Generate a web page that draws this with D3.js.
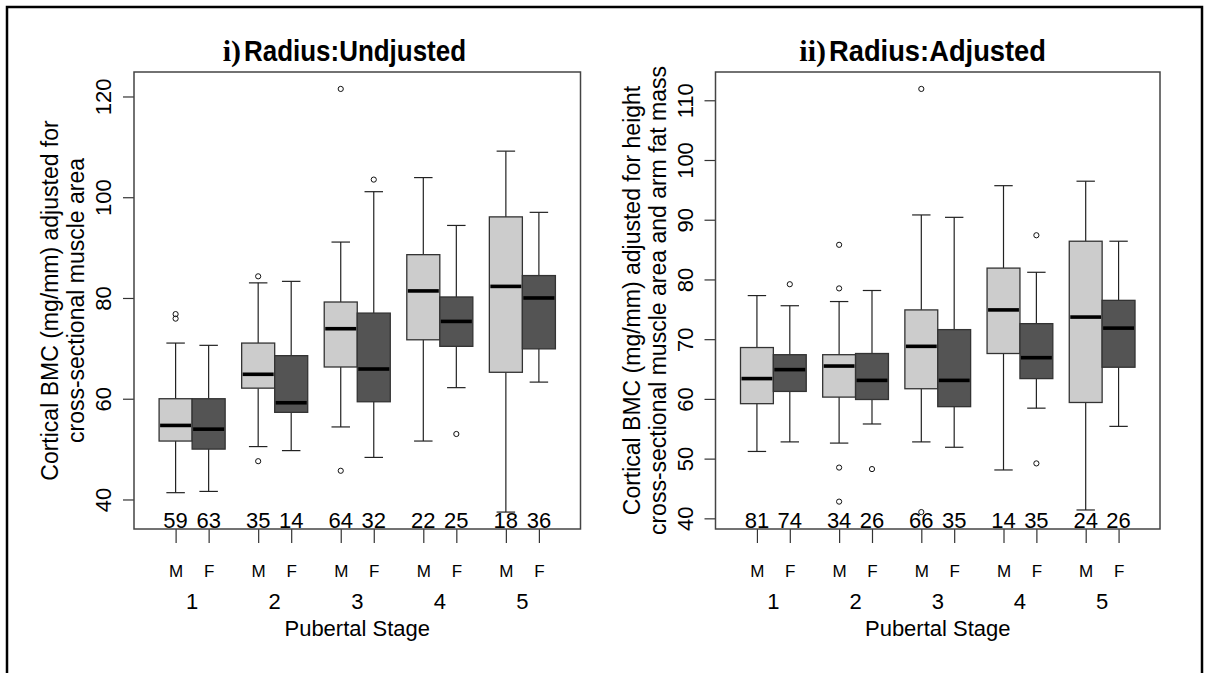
<!DOCTYPE html>
<html>
<head>
<meta charset="utf-8">
<script src="https://cdn.jsdelivr.net/npm/d3@7/dist/d3.min.js"></script>
<style>
  body { margin: 0; background: #fff; }
  svg { display: block; font-family: 'Liberation Sans', Arial, sans-serif; }
  .frame { fill: none; stroke: #444; stroke-width: 1.5; }
  .outer { fill: none; stroke: #000; stroke-width: 2.5; }
  .box { stroke: #333; stroke-width: 1.3; }
  .whisker { stroke: #222; stroke-width: 1.2; }
  .median { stroke: #000; stroke-width: 3.6; }
  .outlier { fill: none; stroke: #111; stroke-width: 1; }
</style>
</head>
<body>
<svg width="1209" height="673"></svg>
<script>
(function (d3) {
  'use strict';

  // categories
  const stages = ['1', '2', '3', '4', '5'];
  const sexes = ['M', 'F'];

  // i) Radius: Undjusted  (order: 1M, 1F, 2M, 2F, ... 5M, 5F)
  const undjLow  = [41.35, 41.6, 50.5, 49.7, 54.4, 48.35, 51.6, 62.2, 37.5, 63.3];
  const undjQ1   = [51.6, 50.0, 62.1, 57.3, 66.3, 59.4, 71.7, 70.4, 65.25, 69.9];
  const undjMed  = [54.7, 53.96, 64.85, 59.2, 73.9, 65.9, 81.4, 75.35, 82.3, 80.0];
  const undjQ3   = [60.0, 60.0, 71.05, 68.55, 79.2, 77.0, 88.6, 80.2, 96.1, 84.45];
  const undjHigh = [71.05, 70.6, 83.0, 83.3, 91.1, 101.1, 103.9, 94.4, 109.15, 97.0];
  const undjOut  = [[76.8, 75.9], [], [84.3, 47.6], [], [121.5, 45.7], [103.5], [], [53.0], [], []];
  const undjN    = [59, 63, 35, 14, 64, 32, 22, 25, 18, 36];
  const undjTicks = [40, 60, 80, 100, 120];

  // ii) Radius: Adjusted
  const adjLow  = [51.2, 52.8, 52.6, 55.8, 52.8, 51.9, 48.1, 58.45, 41.4, 55.4];
  const adjQ1   = [59.2, 61.25, 60.3, 59.9, 61.7, 58.7, 67.6, 63.4, 59.4, 65.3];
  const adjMed  = [63.4, 64.9, 65.5, 63.1, 68.8, 63.1, 74.9, 66.9, 73.7, 71.85];
  const adjQ3   = [68.6, 67.4, 67.4, 67.6, 74.9, 71.6, 81.9, 72.6, 86.4, 76.5];
  const adjHigh = [77.3, 75.6, 76.3, 78.15, 90.8, 90.4, 95.7, 81.2, 96.45, 86.4];
  const adjOut  = [[], [79.2], [85.8, 78.5, 48.5, 42.8], [48.25], [111.9, 41.05], [], [], [87.4, 49.2], [], []];
  const adjN    = [81, 74, 34, 26, 66, 35, 14, 35, 24, 26];
  const adjTicks = [40, 50, 60, 70, 80, 90, 100, 110];

  const toBoxes = (low, q1, med, q3, high, out, n) =>
    low.map((d, i) => ({
      stage: Math.floor(i / 2),
      sex: i % 2,
      low: d, q1: q1[i], med: med[i], q3: q3[i], high: high[i],
      out: out[i], n: n[i]
    }));

  const slot = d => 1 + d.stage * 2.5 + d.sex;

  const svg = d3.select('svg');

  svg.append('rect')
    .attr('class', 'outer')
    .attr('x', 7).attr('y', 7)
    .attr('width', 1195).attr('height', 720);

  const boxPanel = (selection, props) => {
    const {
      boxes, yTicks, left, right, top, bottom,
      prefix, prefixEnd, title, titleX, titleWidth,
      ylabel, ylabelX
    } = props;

    // R style: data range + 4%
    const lo = d3.min(boxes, d => d3.min([d.low, ...d.out]));
    const hi = d3.max(boxes, d => d3.max([d.high, ...d.out]));
    const pad = (hi - lo) * 0.04;

    const y = d3.scaleLinear().domain([lo - pad, hi + pad]).range([bottom, top]);
    const x = d3.scaleLinear().domain([-0.26, 13.26]).range([left, right]);
    const unit = x(1) - x(0);

    // title
    selection.append('text')
      .attr('x', prefixEnd).attr('y', 61)
      .attr('text-anchor', 'end')
      .style('font-family', "'Liberation Serif', 'Times New Roman', serif")
      .style('font-weight', 'bold')
      .style('font-size', '30px')
      .text(prefix);
    selection.append('text')
      .attr('x', titleX).attr('y', 61)
      .attr('textLength', titleWidth)
      .attr('lengthAdjust', 'spacingAndGlyphs')
      .style('font-weight', 'bold')
      .style('font-size', '29px')
      .text(title);

    // y axis
    const yAxisG = selection.append('g')
      .attr('transform', `translate(${left},0)`)
      .call(d3.axisLeft(y).tickValues(yTicks).tickSize(11).tickSizeOuter(0));
    yAxisG.select('.domain').remove();
    yAxisG.selectAll('.tick line').attr('stroke', '#333').attr('stroke-width', 1.2);
    yAxisG.selectAll('.tick text')
      .attr('x', 0).attr('y', -23).attr('dy', 0)
      .attr('transform', 'rotate(-90)')
      .attr('text-anchor', 'middle')
      .attr('fill', '#000')
      .style('font-family', "'Liberation Sans', Arial, sans-serif")
      .style('font-size', '22px');

    // y label (two lines)
    const midY = (top + bottom) / 2;
    ylabel.forEach((line, i) => {
      selection.append('text')
        .attr('transform', `translate(${ylabelX + i * 26},${midY}) rotate(-90)`)
        .attr('text-anchor', 'middle')
        .style('font-size', '23px')
        .text(line);
    });

    // x axis: M / F
    const xAxisG = selection.append('g')
      .attr('transform', `translate(0,${bottom})`)
      .call(d3.axisBottom(x)
        .tickValues(boxes.map(slot))
        .tickSize(14)
        .tickSizeOuter(0)
        .tickFormat((d, i) => sexes[i % 2]));
    xAxisG.select('.domain').remove();
    xAxisG.selectAll('.tick line').attr('stroke', '#333').attr('stroke-width', 1.2);
    xAxisG.selectAll('.tick text')
      .attr('y', 48).attr('dy', 0)
      .attr('fill', '#000')
      .style('font-family', "'Liberation Sans', Arial, sans-serif")
      .style('font-size', '17px');

    // stage numbers
    selection.selectAll('text.stage')
      .data(stages)
      .enter()
      .append('text')
      .attr('class', 'stage')
      .attr('x', (d, i) => x(1.5 + i * 2.5))
      .attr('y', 609)
      .attr('text-anchor', 'middle')
      .style('font-size', '22px')
      .text(d => d);

    selection.append('text')
      .attr('x', (left + right) / 2)
      .attr('y', 636)
      .attr('text-anchor', 'middle')
      .style('font-size', '22px')
      .text('Pubertal Stage');

    // boxes
    const groups = selection.selectAll('g.boxg')
      .data(boxes)
      .enter()
      .append('g')
      .attr('class', 'boxg');

    groups.append('line')
      .attr('class', 'whisker')
      .attr('x1', d => x(slot(d))).attr('x2', d => x(slot(d)))
      .attr('y1', d => y(d.q3)).attr('y2', d => y(d.high));
    groups.append('line')
      .attr('class', 'whisker')
      .attr('x1', d => x(slot(d))).attr('x2', d => x(slot(d)))
      .attr('y1', d => y(d.q1)).attr('y2', d => y(d.low));
    groups.append('line')
      .attr('class', 'whisker')
      .attr('x1', d => x(slot(d)) - unit * 0.28).attr('x2', d => x(slot(d)) + unit * 0.28)
      .attr('y1', d => y(d.high)).attr('y2', d => y(d.high));
    groups.append('line')
      .attr('class', 'whisker')
      .attr('x1', d => x(slot(d)) - unit * 0.28).attr('x2', d => x(slot(d)) + unit * 0.28)
      .attr('y1', d => y(d.low)).attr('y2', d => y(d.low));

    groups.append('rect')
      .attr('class', 'box')
      .attr('x', d => x(slot(d) - 0.5))
      .attr('width', unit)
      .attr('y', d => y(d.q3))
      .attr('height', d => y(d.q1) - y(d.q3))
      .attr('fill', d => (d.sex === 0 ? '#cccccc' : '#545454'));

    groups.append('line')
      .attr('class', 'median')
      .attr('x1', d => x(slot(d) - 0.5) + 1).attr('x2', d => x(slot(d) + 0.5) - 1)
      .attr('y1', d => y(d.med)).attr('y2', d => y(d.med));

    groups.selectAll('circle')
      .data(d => d.out.map(v => ({ v, pos: slot(d) })))
      .enter()
      .append('circle')
      .attr('class', 'outlier')
      .attr('cx', d => x(d.pos))
      .attr('cy', d => y(d.v))
      .attr('r', 2.6);

    // counts
    selection.selectAll('text.count')
      .data(boxes)
      .enter()
      .append('text')
      .attr('class', 'count')
      .attr('x', d => x(slot(d)))
      .attr('y', bottom - 1.5)
      .attr('text-anchor', 'middle')
      .style('font-size', '22px')
      .text(d => d.n);

    selection.append('rect')
      .attr('class', 'frame')
      .attr('x', left).attr('y', top)
      .attr('width', right - left).attr('height', bottom - top);
  };

  svg.append('g').call(boxPanel, {
    boxes: toBoxes(undjLow, undjQ1, undjMed, undjQ3, undjHigh, undjOut, undjN),
    yTicks: undjTicks,
    left: 134, right: 580.5, top: 72, bottom: 529,
    prefix: 'i)', prefixEnd: 241,
    title: 'Radius:Undjusted', titleX: 244, titleWidth: 222,
    ylabel: ['Cortical BMC (mg/mm) adjusted for', 'cross-sectional muscle area'],
    ylabelX: 58
  });

  svg.append('g').call(boxPanel, {
    boxes: toBoxes(adjLow, adjQ1, adjMed, adjQ3, adjHigh, adjOut, adjN),
    yTicks: adjTicks,
    left: 715.5, right: 1160, top: 72, bottom: 529,
    prefix: 'ii)', prefixEnd: 826,
    title: 'Radius:Adjusted', titleX: 829, titleWidth: 217,
    ylabel: ['Cortical BMC (mg/mm) adjusted for height', 'cross-sectional muscle area and arm fat mass'],
    ylabelX: 640
  });

}(d3));
</script>
</body>
</html>
